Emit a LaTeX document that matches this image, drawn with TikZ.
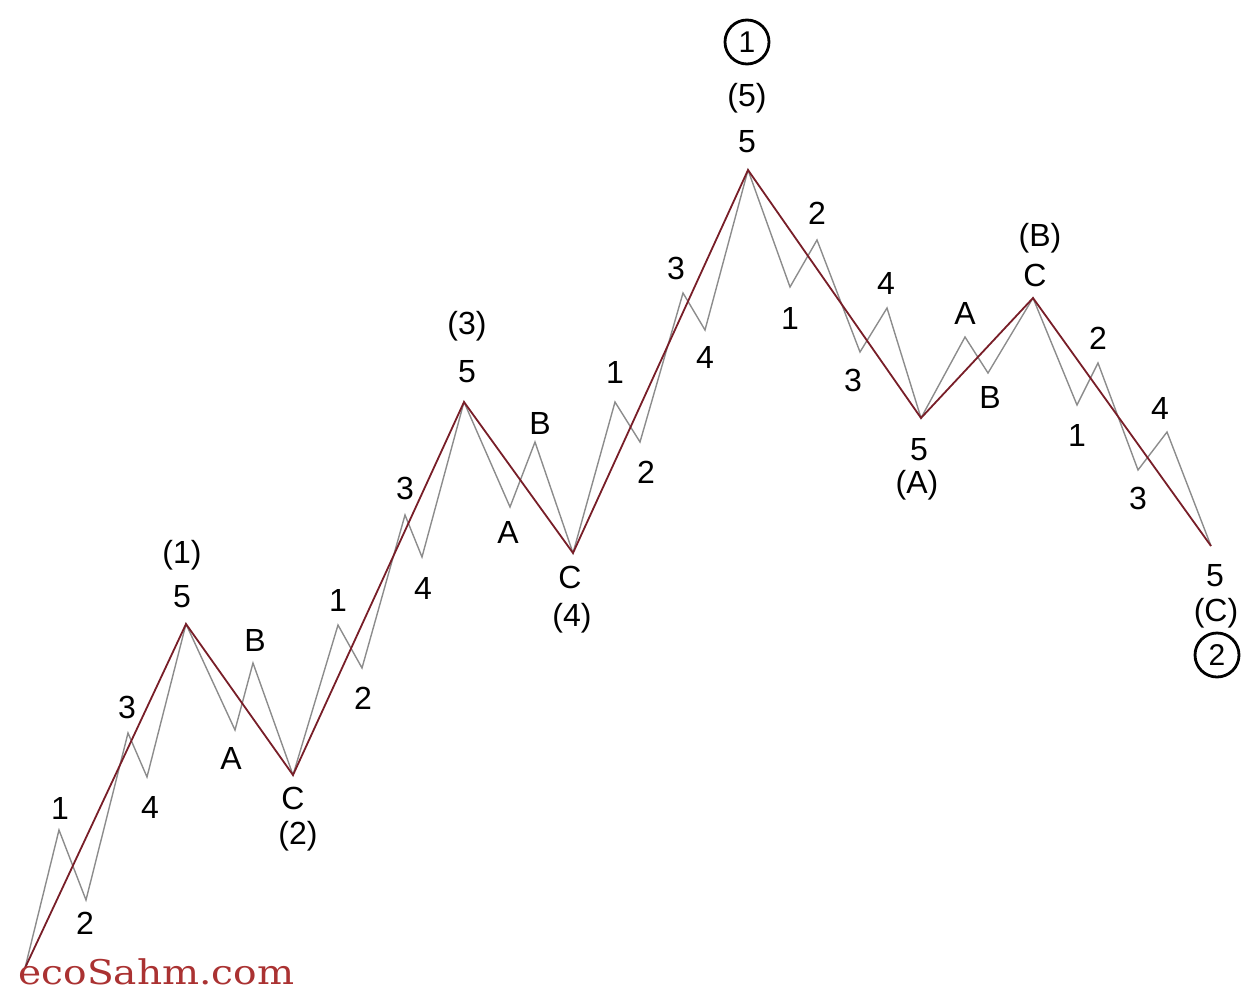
\documentclass[tikz,border=0pt]{standalone}
\usepackage{fontspec}
\setmainfont{Liberation Sans}
\newfontfamily\markfont{DejaVu Serif}
\definecolor{waveRed}{RGB}{120,30,40}
\definecolor{markRed}{RGB}{170,50,50}
\begin{document}
\begin{tikzpicture}[x=0.5pt,y=-0.5pt,font=\fontsize{16}{18}\selectfont,
  minor/.style={black!45,line width=0.7pt},
  major/.style={waveRed,line width=0.9pt},
  wlbl/.style={inner sep=0pt},
  degree/.style={circle,draw,line width=1.4pt,minimum size=22pt,inner sep=0pt,font=\fontsize{15}{17}\selectfont}]
  \useasboundingbox (0,0) rectangle (1241,991);
  \coordinate (w0) at (25,968);
  \coordinate (w1) at (186,624);
  \coordinate (w2) at (293,775);
  \coordinate (w3) at (464,402);
  \coordinate (w4) at (573,553);
  \coordinate (w5) at (748,170);
  \coordinate (wA) at (921,418);
  \coordinate (wB) at (1033,298);
  \coordinate (wC) at (1211,546);
  \draw[minor] (w0) -- (59,830) -- (86,900) -- (128,733) -- (147,777) -- (w1)
    -- (235,730) -- (253,663) -- (w2)
    -- (338,625) -- (362,668) -- (405,515) -- (422,557) -- (w3)
    -- (510,507) -- (535,442) -- (w4)
    -- (615,402) -- (640,442) -- (683,293) -- (705,330) -- (w5)
    -- (790,287) -- (817,240) -- (860,352) -- (887,308) -- (wA)
    -- (965,337) -- (988,373) -- (wB)
    -- (1077,405) -- (1098,363) -- (1138,470) -- (1167,432) -- (wC);
  \draw[major] (w0) -- (w1) -- (w2) -- (w3) -- (w4) -- (w5) -- (wA) -- (wB) -- (wC);
  \node[wlbl] (a1) at (60,808) {1};
  \node[wlbl] (a2) at (85,923) {2};
  \node[wlbl] (a3) at (127,707) {3};
  \node[wlbl] (a4) at (150,807) {4};
  \node[wlbl] (a5) at (182,597) {5};
  \node[wlbl] (i1) at (182,555) {(1)};
  \node[wlbl] (bA) at (231,758) {A};
  \node[wlbl] (bB) at (255,640) {B};
  \node[wlbl] (bC) at (293,798) {C};
  \node[wlbl] (i2) at (298,836) {(2)};
  \node[wlbl] (c1) at (338,600) {1};
  \node[wlbl] (c2) at (363,698) {2};
  \node[wlbl] (c3) at (405,488) {3};
  \node[wlbl] (c4) at (423,588) {4};
  \node[wlbl] (c5) at (467,372) {5};
  \node[wlbl] (i3) at (467,326) {(3)};
  \node[wlbl] (dA) at (508,532) {A};
  \node[wlbl] (dB) at (540,423) {B};
  \node[wlbl] (dC) at (570,577) {C};
  \node[wlbl] (i4) at (572,618) {(4)};
  \node[wlbl] (e1) at (615,372) {1};
  \node[wlbl] (e2) at (646,472) {2};
  \node[wlbl] (e3) at (676,268) {3};
  \node[wlbl] (e4) at (705,357) {4};
  \node[wlbl] (e5) at (747,142) {5};
  \node[wlbl] (i5) at (747,98) {(5)};
  \node[degree] (top1) at (747,42) {1};
  \node[wlbl] (f1) at (790,318) {1};
  \node[wlbl] (f2) at (817,213) {2};
  \node[wlbl] (f3) at (853,380) {3};
  \node[wlbl] (f4) at (886,283) {4};
  \node[wlbl] (f5) at (919,450) {5};
  \node[wlbl] (iA) at (917,485) {(A)};
  \node[wlbl] (gA) at (965,313) {A};
  \node[wlbl] (gB) at (990,397) {B};
  \node[wlbl] (gC) at (1035,275) {C};
  \node[wlbl] (iB) at (1040,238) {(B)};
  \node[wlbl] (h1) at (1077,435) {1};
  \node[wlbl] (h2) at (1098,338) {2};
  \node[wlbl] (h3) at (1138,498) {3};
  \node[wlbl] (h4) at (1160,408) {4};
  \node[wlbl] (h5) at (1215,576) {5};
  \node[wlbl] (iC) at (1216,613) {(C)};
  \node[degree] (top2) at (1217,655) {2};
  \node[anchor=base west,inner sep=0pt,text=markRed,font=\markfont\fontsize{17}{19}\selectfont,xscale=1.15] (mark) at (18,984) {ecoSahm.com};
\end{tikzpicture}
\end{document}
